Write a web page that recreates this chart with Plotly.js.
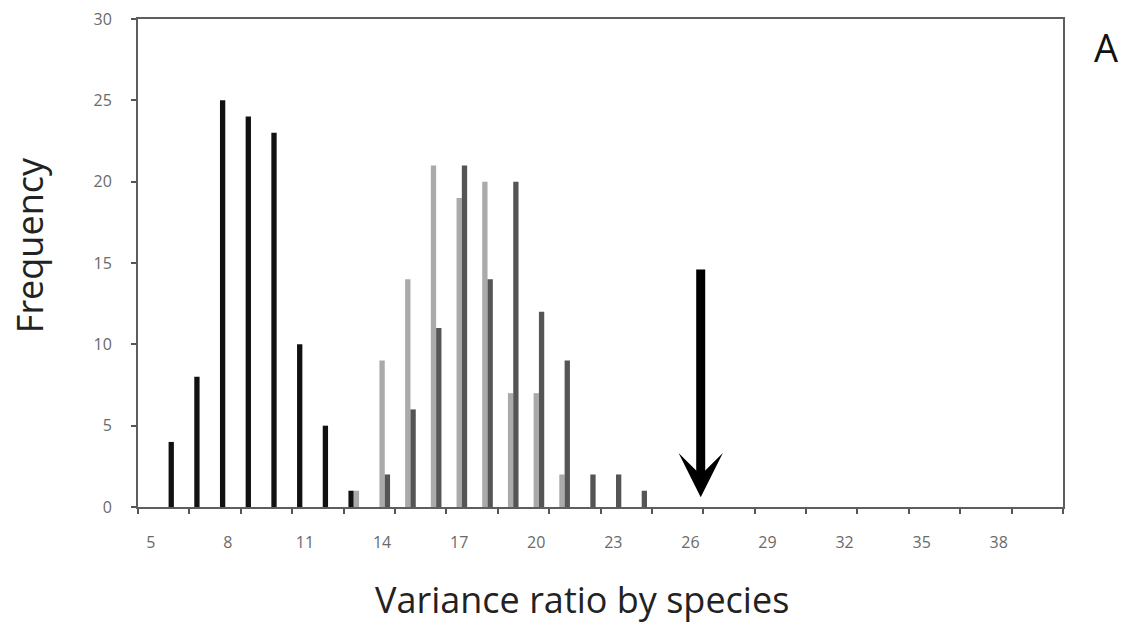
<!DOCTYPE html>
<html>
<head>
<meta charset="utf-8">
<script src="https://cdn.plot.ly/plotly-3.0.1.min.js"></script>
<style>html,body{margin:0;padding:0;background:#fff;}#chart{width:1133px;height:629px;}</style>
</head>
<body>
<div id="chart"></div>
<script>
// Variance ratio categories (bins)
const categories = [5,6,7,8,9,10,11,12,13,14,15,16,17,18,19,20,21,22,23,24,25,26,27,28,29,30,31,32,33,34,35,36,37,38,39,40];
// Frequencies per series
const seriesBlack = [0,4,8,25,24,23,10,5,1,0,0,0,0,0,0,0,0,0,0,0,0,0,0,0,0,0,0,0,0,0,0,0,0,0,0,0];
const seriesLight = [0,0,0,0,0,0,0,0,1,9,14,21,19,20,7,7,2,0,0,0,0,0,0,0,0,0,0,0,0,0,0,0,0,0,0,0];
const seriesDark  = [0,0,0,0,0,0,0,0,0,2,6,11,21,14,20,12,9,2,2,1,0,0,0,0,0,0,0,0,0,0,0,0,0,0,0,0];
const xTickVals = [5,8,11,14,17,20,23,26,29,32,35,38];
const yTickVals = [0,5,10,15,20,25,30];
// Observed value marked by the arrow
const observedValue = 26.4;
const arrowTop = 14.7;
const arrowTip = 0.6;

const tickFont = {family: 'Open Sans, sans-serif', size: 16, color: '#6a6a6a'};
const titleFont = {family: 'Open Sans, sans-serif', size: 36, color: '#222'};

const traces = [
  {type: 'bar', x: categories, y: seriesBlack, marker: {color: '#111'}, name: 'A1'},
  {type: 'bar', x: categories, y: seriesLight, marker: {color: '#aaaaaa'}, name: 'A2'},
  {type: 'bar', x: categories, y: seriesDark,  marker: {color: '#555555'}, name: 'A3'}
];

const layout = {
  width: 1133, height: 629,
  margin: {l: 138, r: 70, t: 19, b: 122},
  paper_bgcolor: '#fff', plot_bgcolor: '#fff',
  showlegend: false,
  barmode: 'group',
  bargap: 0.38,
  bargroupgap: 0,
  xaxis: {
    type: 'linear',
    range: [4.5, 40.5],
    tickmode: 'array', tickvals: xTickVals,
    ticks: '', showgrid: false, zeroline: false,
    showline: true, linecolor: '#5e5e5e', linewidth: 2, mirror: true,
    tickfont: tickFont, ticklabelstandoff: 20,
    minor: {tickmode: 'linear', tick0: 4.5, dtick: 2, ticks: 'outside', ticklen: 5, tickwidth: 2, tickcolor: '#555', showgrid: false},
    fixedrange: true
  },
  yaxis: {
    range: [0, 30],
    tickmode: 'array', tickvals: yTickVals,
    ticks: 'outside', ticklen: 5, tickwidth: 2, tickcolor: '#555',
    showgrid: false, zeroline: false,
    showline: true, linecolor: '#5e5e5e', linewidth: 2, mirror: true,
    tickfont: tickFont, ticklabelstandoff: 16,
    fixedrange: true
  },
  annotations: [
    {
      x: observedValue, y: arrowTip, xref: 'x', yref: 'y',
      ax: observedValue, ay: arrowTop, axref: 'x', ayref: 'y',
      text: '', showarrow: true,
      arrowhead: 3, arrowsize: 0.82, arrowwidth: 9, arrowcolor: '#000'
    },
    {
      x: 0.4805, y: -0.19, xref: 'paper', yref: 'paper',
      xanchor: 'center', yanchor: 'middle',
      text: 'Variance ratio by species', showarrow: false, font: titleFont
    },
    {
      x: -0.1165, y: 0.537, xref: 'paper', yref: 'paper',
      xanchor: 'center', yanchor: 'middle', textangle: -90,
      text: 'Frequency', showarrow: false, font: titleFont
    },
    {
      x: 1.0465, y: 0.943, xref: 'paper', yref: 'paper',
      xanchor: 'center', yanchor: 'middle',
      text: 'A', showarrow: false,
      font: {family: 'Open Sans, sans-serif', size: 38, color: '#111'}
    }
  ]
};

Plotly.newPlot('chart', traces, layout, {displayModeBar: false, staticPlot: true});
</script>
</body>
</html>
